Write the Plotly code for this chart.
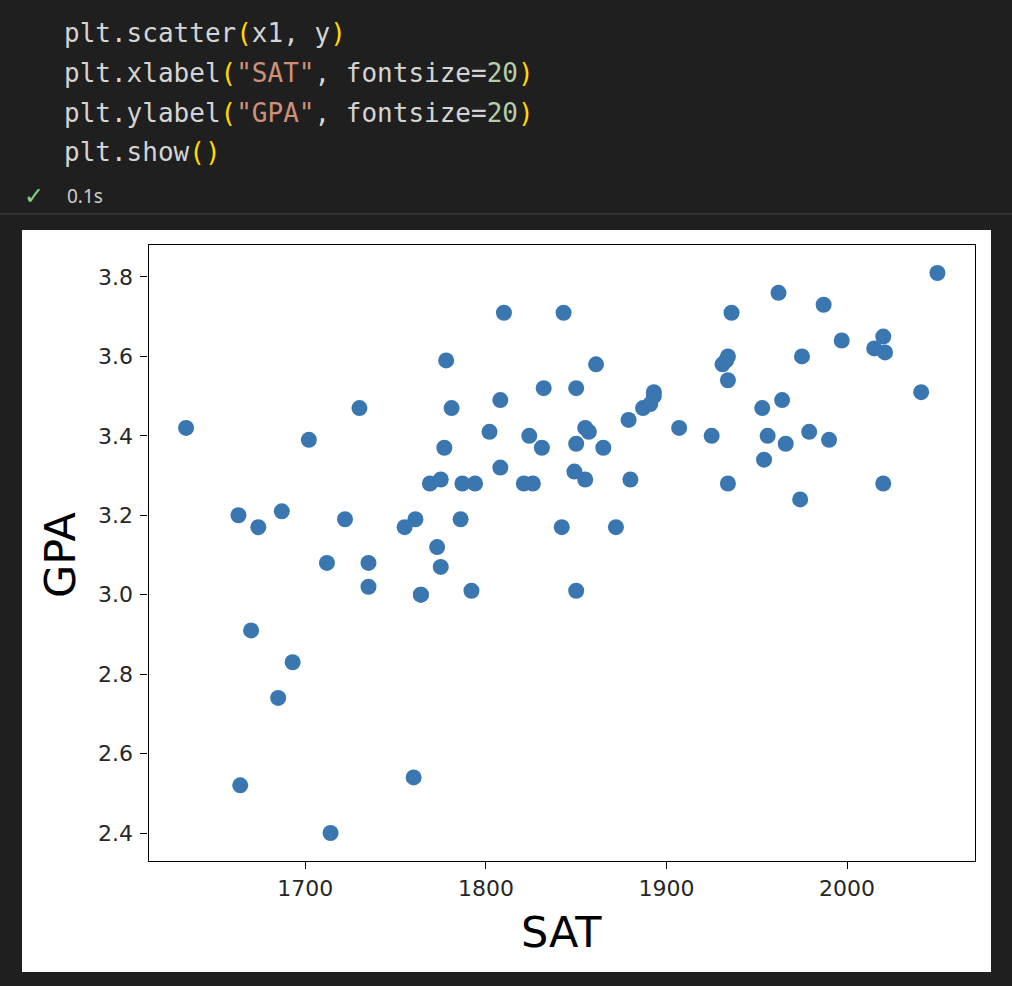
import plotly.graph_objects as go

# ---- data (SAT vs GPA) ----
sat = [1714, 1664, 1760, 1685, 1693, 1670, 1764, 1764, 1792, 1850, 1735, 1775,
       1735, 1712, 1773, 1872, 1755, 1674, 1842, 1786, 1761, 1722, 1663, 1687,
       1974, 1826, 1787, 1821, 2020, 1794, 1769, 1934, 1775, 1855, 1880, 1849,
       1808, 1954, 1777, 1831, 1865, 1850, 1966, 1702, 1990, 1925, 1824, 1956,
       1857, 1979, 1802, 1855, 1907, 1634, 1879, 1887, 1730, 1953, 1781, 1891,
       1964, 1808, 1893, 2041, 1893, 1832, 1850, 1934, 1861, 1931, 1933, 1778,
       1975, 1934, 2021, 2015, 1997, 2020, 1843, 1936, 1810, 1987, 1962, 2050]
gpa = [2.40, 2.52, 2.54, 2.74, 2.83, 2.91, 3.00, 3.00, 3.01, 3.01, 3.02, 3.07,
       3.08, 3.08, 3.12, 3.17, 3.17, 3.17, 3.17, 3.19, 3.19, 3.19, 3.20, 3.21,
       3.24, 3.28, 3.28, 3.28, 3.28, 3.28, 3.28, 3.28, 3.29, 3.29, 3.29, 3.31,
       3.32, 3.34, 3.37, 3.37, 3.37, 3.38, 3.38, 3.39, 3.39, 3.40, 3.40, 3.40,
       3.41, 3.41, 3.41, 3.42, 3.42, 3.42, 3.44, 3.47, 3.47, 3.47, 3.47, 3.48,
       3.49, 3.49, 3.50, 3.51, 3.51, 3.52, 3.52, 3.54, 3.58, 3.58, 3.59, 3.59,
       3.60, 3.60, 3.61, 3.62, 3.64, 3.65, 3.71, 3.71, 3.71, 3.73, 3.76, 3.81]
x_ticks = [1700, 1800, 1900, 2000]
y_ticks = [2.4, 2.6, 2.8, 3.0, 3.2, 3.4, 3.6, 3.8]
x_label = "SAT"
y_label = "GPA"

W, H = 1012, 986

def px_x(p):
    return p / W

def px_y(p):
    return 1 - p / H

# matplotlib-style 5% margins
xmin, xmax = min(sat), max(sat)
ymin, ymax = min(gpa), max(gpa)
xpad = (xmax - xmin) * 0.05
ypad = (ymax - ymin) * 0.05

fig = go.Figure(
    go.Scatter(
        x=sat, y=gpa, mode="markers",
        marker=dict(size=16, color="#3a76b0", line=dict(width=0)),
        hoverinfo="x+y",
    )
)

axis_common = dict(
    showline=True, linecolor="#000000", linewidth=1.3, mirror=True,
    ticks="outside", ticklen=7, tickwidth=1.3, tickcolor="#000000",
    showgrid=False, zeroline=False,
    tickfont=dict(family="DejaVu Sans", size=22, color="#262626"),
)

fig.update_layout(
    width=W, height=H,
    margin=dict(l=0, r=0, t=0, b=0),
    paper_bgcolor="#1f1f1f",
    plot_bgcolor="#ffffff",
    showlegend=False,
    xaxis=dict(domain=[px_x(148.5), px_x(975)], range=[xmin - xpad, xmax + xpad],
               tickvals=x_ticks, ticktext=[str(v) for v in x_ticks], **axis_common),
    yaxis=dict(domain=[px_y(861), px_y(245)], range=[ymin - ypad, ymax + ypad],
               tickvals=y_ticks, ticktext=[f"{v:.1f}" for v in y_ticks],
               ticklabelstandoff=3, **axis_common),
    shapes=[
        dict(type="rect", xref="paper", yref="paper",
             x0=px_x(22), x1=px_x(991), y0=px_y(972), y1=px_y(230),
             fillcolor="#ffffff", line=dict(width=0), layer="below"),
        dict(type="line", xref="paper", yref="paper",
             x0=0, x1=1, y0=px_y(214), y1=px_y(214),
             line=dict(color="#3a3a3a", width=1.5)),
    ],
)

P = '<span style="color:#ffd700">{}</span>'
S = '<span style="color:#ce9178">{}</span>'
N = '<span style="color:#b5cea8">{}</span>'
code_lines = [
    "plt.scatter" + P.format("(") + "x1, y" + P.format(")"),
    "plt.xlabel" + P.format("(") + S.format('"SAT"') + ", fontsize=" + N.format("20") + P.format(")"),
    "plt.ylabel" + P.format("(") + S.format('"GPA"') + ", fontsize=" + N.format("20") + P.format(")"),
    "plt.show" + P.format("()"),
]
line_y = [33, 73, 113, 152]
annotations = []
for txt, yy in zip(code_lines, line_y):
    annotations.append(dict(
        text=txt, xref="paper", yref="paper", x=px_x(62), y=px_y(yy),
        xanchor="left", yanchor="middle", showarrow=False,
        font=dict(family="DejaVu Sans Mono", size=26, color="#d4d4d4"),
    ))
annotations.append(dict(
    text="✓", xref="paper", yref="paper", x=px_x(34), y=px_y(196),
    xanchor="center", yanchor="middle", showarrow=False,
    font=dict(family="DejaVu Sans", size=24, color="#89d185"),
))
annotations.append(dict(
    text="0.1s", xref="paper", yref="paper", x=px_x(65), y=px_y(196),
    xanchor="left", yanchor="middle", showarrow=False,
    font=dict(family="Noto Sans", size=19, color="#cccccc"),
))
annotations.append(dict(
    text=x_label, xref="paper", yref="paper", x=px_x(561.5), y=px_y(932),
    xanchor="center", yanchor="middle", showarrow=False,
    font=dict(family="DejaVu Sans", size=43, color="#000000"),
))
annotations.append(dict(
    text=y_label, xref="paper", yref="paper", x=px_x(60), y=px_y(555),
    xanchor="center", yanchor="middle", showarrow=False, textangle=-90,
    font=dict(family="DejaVu Sans", size=43, color="#000000"),
))
fig.update_layout(annotations=annotations)

fig.write_html(
    "out.html",
    config={"displayModeBar": False},
    post_script="document.body.style.margin='0';document.body.style.background='#1f1f1f';",
)
